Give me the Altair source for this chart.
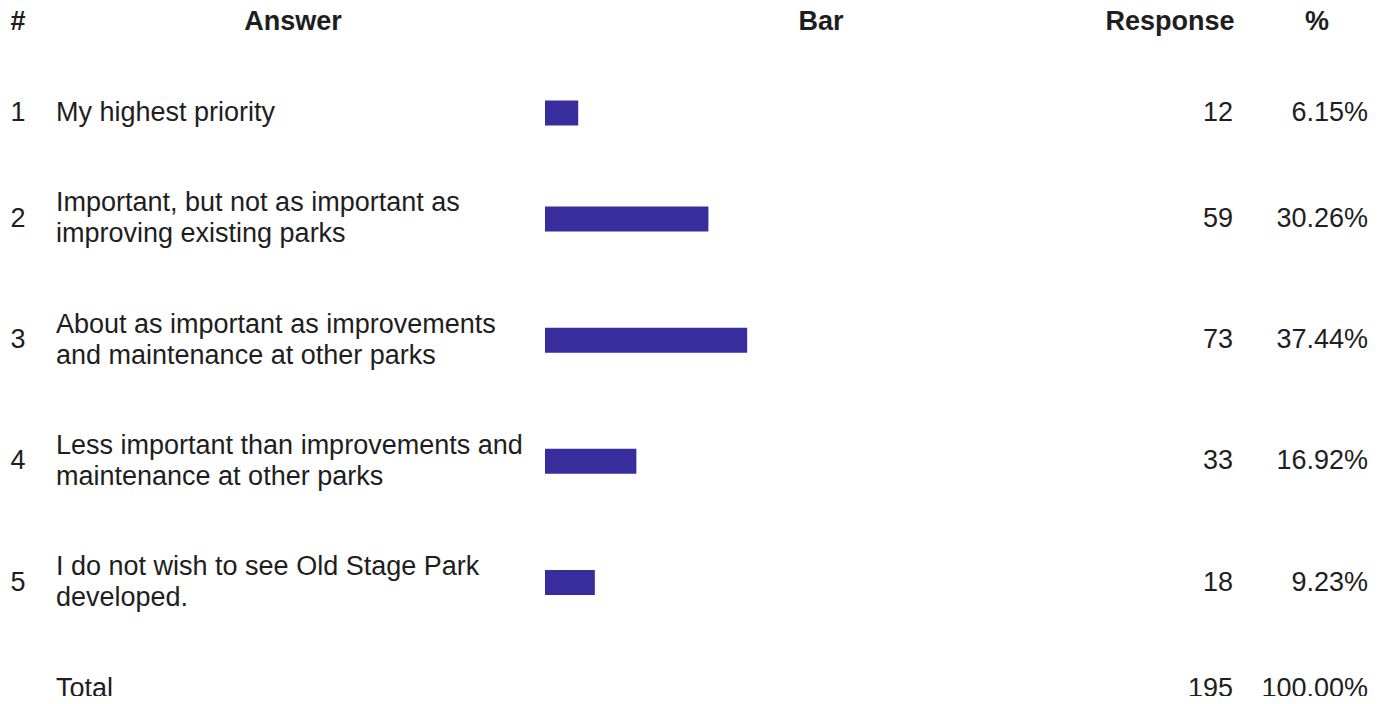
import altair as alt
import pandas as pd

# ---- data ----
headers = ["#", "Answer", "Bar", "Response", "%"]
numbers = ["1", "2", "3", "4", "5"]
answers = [
    "My highest priority",
    "Important, but not as important as\nimproving existing parks",
    "About as important as improvements\nand maintenance at other parks",
    "Less important than improvements and\nmaintenance at other parks",
    "I do not wish to see Old Stage Park\ndeveloped.",
]
responses = [12, 59, 73, 33, 18]
percents = [6.15, 30.26, 37.44, 16.92, 9.23]
total_label = "Total"
total_response = 195
total_percent = 100.00

# ---- row layout: each row is (lines + 2) units tall ----
lines = [1] + [a.count("\n") + 1 for a in answers] + [1]
centers = []
acc = 0
for n in lines:
    centers.append(acc + (n + 2) / 2)
    acc += n + 2

W, H = 1369, 688
UNIT = 30.3
LH = 31
Y0 = 14  # header center, px from top
lo = centers[0] - Y0 / UNIT
hi = lo + H / UNIT

rows = pd.DataFrame({
    "num": numbers,
    "answer": answers,
    "response": responses,
    "pct": percents,
    "row": centers[1:1 + len(answers)],
})
total = pd.DataFrame({
    "answer": [total_label],
    "response": [total_response],
    "pct": [total_percent],
    "row": [centers[-1]],
})

FONT = "Liberation Sans"
FS = 27
TXT = "#1e1e1e"
BAR = "#372d9c"

yscale = alt.Scale(domain=[lo, hi], reverse=True, nice=False, zero=False)


def text_layer(df, field, xpx, align, bold=False, calc=None, multiline=False):
    base = alt.Chart(df)
    c = dict(calc or {})
    c["label_s"] = f"'' + datum['{field}']"
    if multiline:
        c["row_t"] = (
            f"datum.row - (split(datum.label_s, '\\n').length - 1) / 2 * {LH / UNIT}"
        )
    else:
        c["row_t"] = "datum.row"
    if calc:
        base = base.transform_calculate(**calc)
    base = base.transform_calculate(label_s=c["label_s"]).transform_calculate(row_t=c["row_t"])
    kw = dict(
        align=align, baseline="middle", font=FONT, fontSize=FS,
        fontWeight="bold" if bold else "normal", color=TXT,
    )
    if multiline:
        kw.update(lineBreak="\n", lineHeight=LH)
    return base.mark_text(**kw).encode(
        x=alt.value(xpx),
        y=alt.Y("row_t:Q", scale=yscale, axis=None),
        text="label_s:N",
    )


hdr_x = [10, 285, 813, 1162, 1309]
hdr_layers = [
    text_layer(pd.DataFrame({"label": [h], "row": [centers[0]]}), "label", x, "center", bold=True)
    for h, x in zip(headers, hdr_x)
]

pct_calc = {"pct_label": "format(datum.pct, '.2f') + '%'"}

bars = alt.Chart(rows).transform_calculate(start="0").mark_rule(
    strokeWidth=25, strokeCap="butt", color=BAR
).encode(
    x=alt.X("start:Q", scale=alt.Scale(domain=[0, 100], range=[537, 1077]), axis=None),
    x2="pct:Q",
    y=alt.Y("row:Q", scale=yscale, axis=None),
)

layers = hdr_layers + [
    text_layer(rows, "num", 10, "center"),
    text_layer(rows, "answer", 48, "left", multiline=True),
    bars,
    text_layer(rows, "response", 1225, "right"),
    text_layer(rows, "pct_label", 1360, "right", calc=pct_calc),
    text_layer(total, "answer", 48, "left"),
    text_layer(total, "response", 1225, "right"),
    text_layer(total, "pct_label", 1360, "right", calc=pct_calc),
]

chart = alt.layer(*layers).properties(
    width=W, height=H, padding=0,
    autosize=alt.AutoSizeParams(type="none"),
    background="white",
).configure_view(stroke=None)

chart.save("out.html", embed_options={"renderer": "svg", "actions": False})
